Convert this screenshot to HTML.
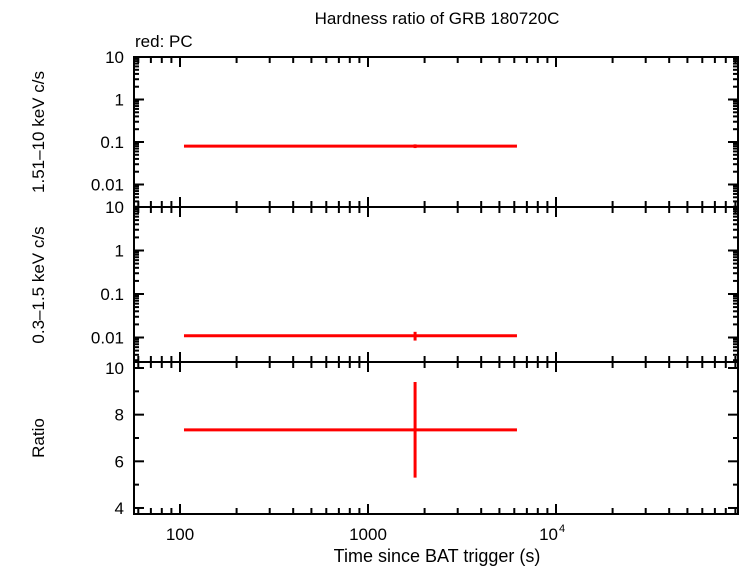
<!DOCTYPE html>
<html><head><meta charset="utf-8"><style>
body{margin:0;background:#fff}
svg{display:block;font-family:"Liberation Sans",sans-serif}
</style></head><body>
<svg id="c" width="742" height="566"></svg>
<script>
const times=[1780], tLo=[105], tHi=[6200];
const hard=[0.08], hardLo=[0.072], hardHi=[0.088];
const soft=[0.011], softLo=[0.0085], softHi=[0.0135];
const ratio=[7.35], ratioLo=[5.3], ratioHi=[9.4];
const logTickLabels=["10","1","0.1","0.01"], logTickVals=[10,1,0.1,0.01];
const ratioTicks=[4,6,8,10];
const xTickVals=[100,1000,10000];

const svg=document.getElementById('c'), NS='http://www.w3.org/2000/svg';
const L=134,R=738;
function X(t){return 180+(Math.log10(t)-2)*188;}
const panels=[
 {top:57,bot:207,y:v=>57+(1-Math.log10(v))*42.5,log:true,name:'hard'},
 {top:207,bot:362,y:v=>207+(1-Math.log10(v))*43.5,log:true,name:'soft'},
 {top:362,bot:514,y:v=>368+(10-v)*23.33,log:false,name:'ratio'}];
function el(tag,a,txt){const e=document.createElementNS(NS,tag);for(const k in a)e.setAttribute(k,a[k]);if(txt!==undefined)e.textContent=txt;svg.appendChild(e);return e;}
function ln(x1,y1,x2,y2,c,w,name){const e=el('line',{x1,y1,x2,y2,stroke:c,'stroke-width':w});

return e;}
function tx(x,y,s,anchor,name,extra){const e=el('text',Object.assign({x,y,'font-size':17,'text-anchor':anchor,fill:'#000'},extra||{}),s);

return e;}

panels.forEach((p,pi)=>{
 for(let d=1;d<=5;d++){for(let m=1;m<10;m++){const t=m*Math.pow(10,d);const x=X(t);if(x<L||x>R)continue;
  const len=m===1?10:6;
  ln(x,p.top,x,p.top+len,'#000',2,'x-tick');ln(x,p.bot,x,p.bot-len,'#000',2,'x-tick');}}
 if(p.log){
  for(let e=-3;e<=1;e++){for(let m=1;m<10;m++){const v=m*Math.pow(10,e);const y=p.y(v);if(y<p.top-0.5||y>p.bot+0.5)continue;
   const len=m===1?10:5;ln(L,y,L+len,y,'#000',2,'y-tick');ln(R,y,R-len,y,'#000',2,'y-tick');}}
  logTickVals.forEach((v,i)=>tx(L-10,p.y(v)+6,logTickLabels[i],'end','y-tick-label'));
 } else {
  for(let v=4;v<=10;v++){const y=p.y(v);const len=v%2===0?10:5;ln(L,y,L+len,y,'#000',2,'y-tick');ln(R,y,R-len,y,'#000',2,'y-tick');}
  ratioTicks.forEach(v=>tx(L-10,p.y(v)+6,String(v),'end','y-tick-label'));
 }
 const r=el('rect',{x:L,y:p.top,width:R-L,height:p.bot-p.top,fill:'none',stroke:'#000','stroke-width':2});
 
 
 const vals=[hard,soft,ratio][pi],lo=[hardLo,softLo,ratioLo][pi],hi=[hardHi,softHi,ratioHi][pi];
 times.forEach((t,i)=>{
  ln(X(tLo[i]),p.y(vals[i]),X(tHi[i]),p.y(vals[i]),'#f00',3,p.name+'-x-errorbar');
  ln(X(t),p.y(lo[i]),X(t),p.y(hi[i]),'#f00',3,p.name+'-y-errorbar');
 });
});
tx(X(100),540,'100','middle','x-tick-label');
tx(X(1000),540,'1000','middle','x-tick-label');
tx(X(10000)+2,540,'10','end','x-tick-label');
tx(X(10000)+3,532,'4','start','x-tick-exponent',{'font-size':11});
tx(437,562,'Time since BAT trigger (s)','middle','x-axis-title',{'font-size':18});
tx(437,24,'Hardness ratio of GRB 180720C','middle','chart-title');
tx(135,47,'red: PC','start','legend-entry');
tx(0,0,'1.51\u201310 keV c/s','middle','y-axis-title-hard',{transform:'translate(44,132) rotate(-90)'});
tx(0,0,'0.3\u20131.5 keV c/s','middle','y-axis-title-soft',{transform:'translate(44,285) rotate(-90)'});
tx(0,0,'Ratio','middle','y-axis-title-ratio',{transform:'translate(44,438) rotate(-90)'});
</script>
</body></html>
